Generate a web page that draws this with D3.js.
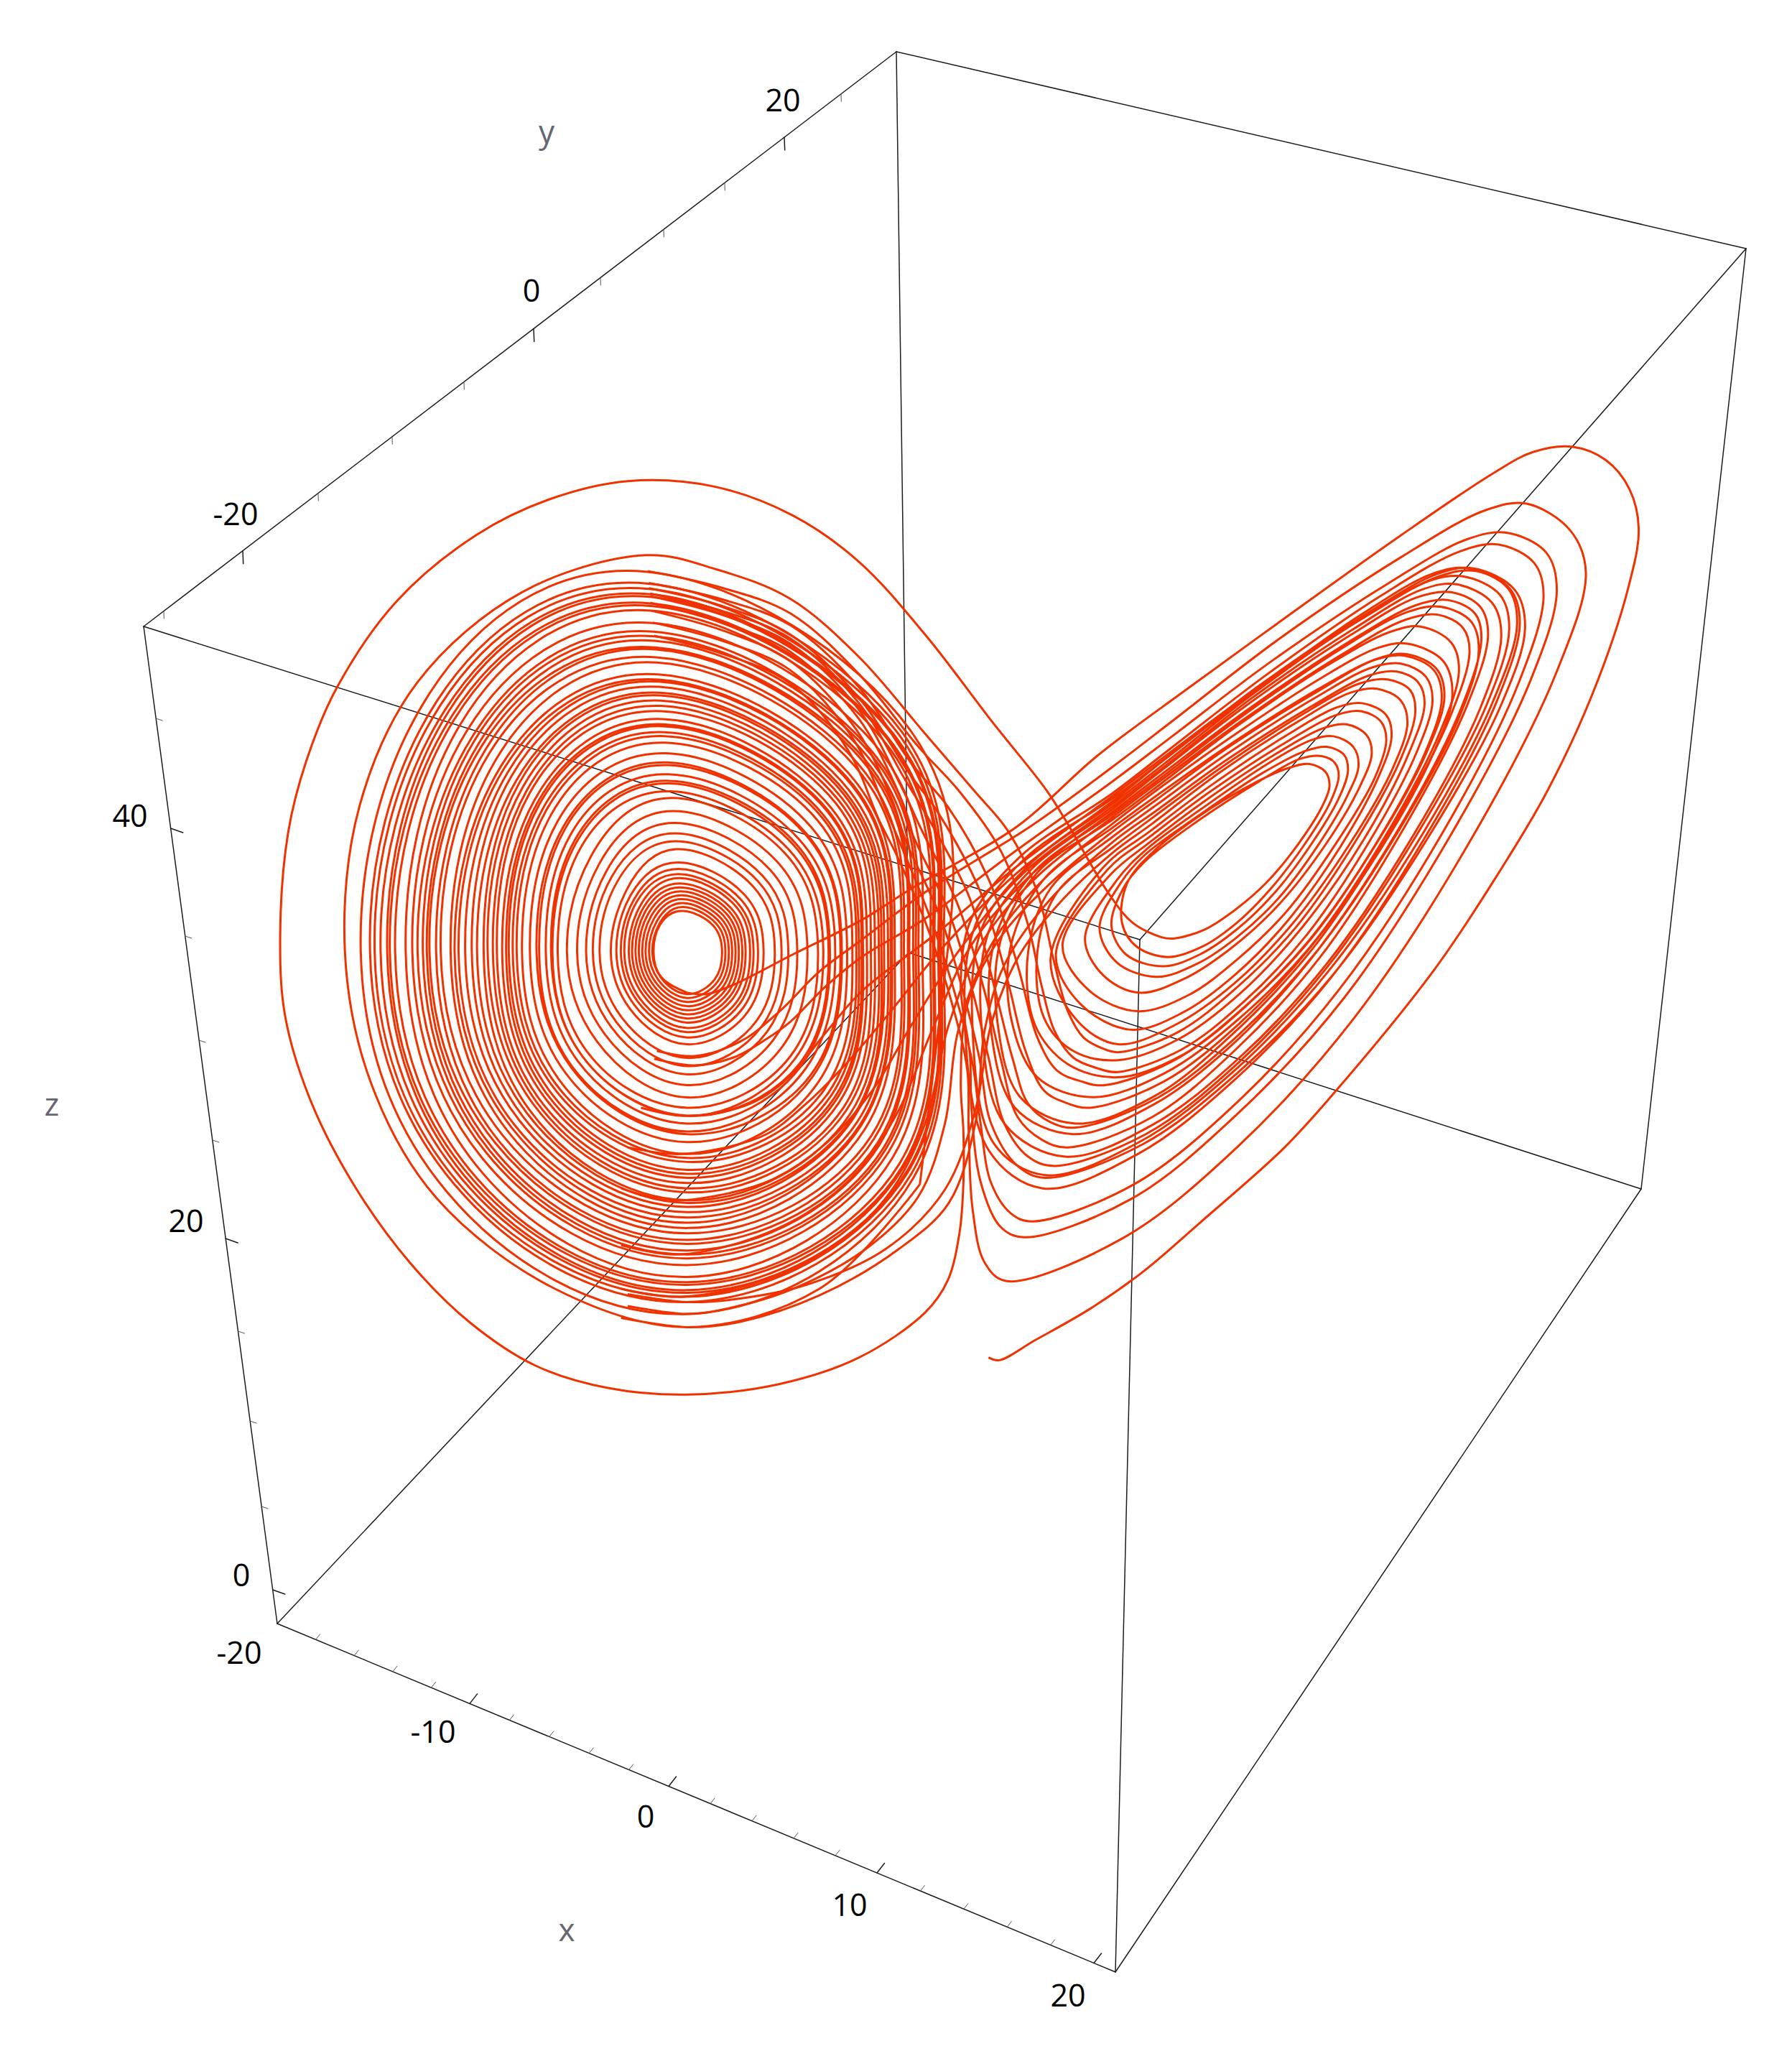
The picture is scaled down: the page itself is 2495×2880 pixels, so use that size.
<!DOCTYPE html>
<html><head><meta charset="utf-8">
<script src="https://cdnjs.cloudflare.com/ajax/libs/d3/7.8.5/d3.min.js"></script>
<style>html,body{margin:0;background:#fff}svg{display:block}</style></head>
<body><svg id="c" width="2495" height="2880"></svg>
<script>
// ---------- frame and axes (picture units) ----------
const boxCorners = {L:[200,872],T:[1248,72],R:[2431,346],Q:[2285,1655],B:[1553,2745],A:[386,2260],N:[1587,1308],F:[1265,1326]};
const boxEdges = ["LT","TR","RQ","QB","BA","AL","FT","FA","FQ","NL","NR","NB"];

const xDomain = [-20,-10,0,10,20,21];
const xAlong  = [386,654,931,1221,1523,1553];
const xTicks  = [-18,-16,-14,-12,-10,-8,-6,-4,-2,0,2,4,6,8,10,12,14,16,18,20];
const xMajor  = [-10,0,10,20];

const yDomain = [-26.2,-25,-20,-15,-10,-5,0,5,10,15,20,25,29];
const yAlong  = [200,228,338,443,546,646,743,836,924,1009,1092,1171,1248];
const yTicks  = [-25,-20,-15,-10,-5,0,5,10,15,20,25];
const yMajor  = [-20,0,20];

const zDomain = [-2,0,5,10,15,20,25,30,35,40,45,49];
const zAlong  = [2260,2213,2097,1978,1853,1724,1587,1448,1303,1153,1000,872];
const zTicks  = [0,5,10,15,20,25,30,35,40,45];
const zMajor  = [0,20,40];

const tickLabels = [["-20",333,2301],["-10",603,2411],["0",899,2529],["10",1183,2652],["20",1487,2778],
  ["-20",328,716],["0",740,405],["20",1090,140],["0",336,2193],["20",259,1700],["40",181,1136]];
const axisNames = [["x",789,2691],["y",761,188],["z",72,1542]];

// ---------- left wing: spiral, radius read along 8 directions round the pole, one row per turn ----------
const leftPole = [520,720];
const spiralDirections = [-6,45,90,135,180,225,270,315];
const leftSpiralRadii = [
 31,27.5,25.5,29,
 31,27.9,26.4,29.5,32,27.9,26.4,29.8,
 34,30.6,28.9,32.3,35,30.6,28.9,32.6,
 37,33.3,31.5,35.2,38,33.3,31.5,35.5,
 40,36,34,38,41.2,36,34,38.4,
 43,38.7,36.6,40.9,44.3,38.7,36.6,41.3,
 46,41.4,39.1,43.7,47.4,41.4,39.1,44.2,
 49,44.1,41.7,46.6,50.5,44.1,41.7,47,
 52,46.8,44.2,49.4,53.6,46.8,44.2,49.9,
 56,50.4,47.6,53.2,57.7,50.4,47.6,53.8,
 59,53.1,50.2,56,60.8,53.1,50.2,56.6,
 63,56.7,53.6,59.9,64.9,56.7,53.6,60.5,
 68,61.2,57.8,64.6,70,61.2,57.8,65.3,
 78,70.2,66.3,74.1,80.3,70.2,66.3,74.9,
 84,75.6,71.4,79.8,86.5,75.6,71.4,80.6,
 90,81,76.5,85.5,92.7,81,76.5,86.4,
 98,88.2,83.3,93.1,100.9,88.2,83.3,94.1,
 107,96.3,91,101.7,110.2,96.3,91,102.7,
 117,105,99,111,118,107,98,113,
 122,109,103,115,124,112,102,118,
 128,114,107,120,124,112,103,120,
 130,116,108,122,130,117,107,125,
 135,120,112,126,136,123,112,131,
 142,126,116,132,138,124,114,133,
 144,127,117,134,144,130,119,139,
 151,133,121,140,153,137,125,146,
 159,140,125,147,156,141,129,151,
 164,144,128,151,159,144,132,154,
 167,146,130,154,165,148,135,158,
 171.5,150,132,157,168,151,137,160,
 173,151,133,159,171,154,140,163,
 177,154,136,162,175,158,144,169,
 183,159,139,167,179,161,147,172,
 187,162,142,170,182,164,151,176,
 191,165,145,174,188,169,154,180,
 195,168,147,177,190,172,159,183,
 197,170,149,178,193,176,163,188,
 201.5,173,152,182,197,180,168,192,
 205.5,177,154,185,201,185,173,196,
 207,178,155,186,205,188,176,199,
 211,181,157,190,209,192,179,205,
 220,188,162,197,213,197,186.5,212,
 224,191,164,200,218,202,190,216,
 230,195,167,204,221,205,195,220,
 231.5,197,168,206,226,209,197,223,
 236.5,200,171,210,229,212,200,227,
 240,203,173,212,232,215,204,230,
 243.5,205,175,215,237,220,208,236,
 250,210,178,220,246,227,213,243,
 259.5,217,184,227,250,233,221,249,
 263,220,186,230,252,236,225,252,
 265,221,187,231,256,239,227,256,
 270,225,190,235,258,242,232,259,
 272,226,191,236,261,246,236.5,264,
 276,229,192,239,265,249,240,268,
 280,232,194,242,274,257,247,276,
 289,238,197,249
];

// ---------- the other stretches of the trajectory, read as x,y pairs in the plane of the picture ----------
const outerAndInnerRight = [
 846,815,895,798,944,760,993,709,1042,637,1079,568,1091,528,1085,507,1063,496,1041,499,997,523,930,565,875,605,842,629,795,668,755,712,732,760,727,818,729,856,729,895,726,933,717,969,700,993,650,1027,590,1047,520,1055,460,1050,405,1033,355,1000,310,955,270,900,236,835,216,770,212,710,218,630,232,575,255,520,300,455,360,405,415,378,475,364,540,368,600,390,650,425,700,480,750,545,792,598,806,620,839,676,857,698,879,709,
 888,710,912,703,935,688,959,667,982,639,1000,611,1006,595,1003,584,991,578,975,581,946,594,905,619,873,644,853,668,849,698,860,716,
 884,724,910,716,936,698,961,673,987,639,1007,606,1013,587,1010,577,1000,572,984,574,953,591,905,622,866,652,850,672,841,700,852,722,
 880,731,908,722,936,703,964,676,992,639,1013,604,1020,583,1017,571,1004,565,988,568,955,585,907,617,866,647,848,668,832,702,845,728,
 875,739,906,729,936,709,967,680,997,640,1020,601,1028,579,1024,565,1009,557,992,560,959,578,909,612,867,643,845,666,821,710,835,738,
 862,751,897,740,932,717,968,684,1003,639,1029,595,1038,570,1034,556,1019,548,1001,551,966,570,913,605,869,638,840,662,804,715,825,750,
 861,765,899,753,936,726,974,689,1011,638,1040,589,1049,560,1045,546,1030,538,1011,541,974,561,917,598,870,633,838,658,799,722,818,760,
 856,779,895,766,935,737,974,697,1014,641,1043,588,1053,557,1049,541,1031,532,1012,535,974,556,918,593,870,629,835,656,795,725,815,772,
 846,790,890,775,934,744,977,700,1021,639,1054,581,1065,547,1060,530,1042,521,1022,524,982,546,922,585,872,623,842,645,800,685,770,725,750,775,738,840,715,900,670,945,610,972,555,983,520,985,475,979
];
const passA = [696,896,620,975,520,1004,420,975,330,906,281,820,261,720,272,610,316,516,395,448,489,420,543,431,598,453,650,497,700,555,737,598,763,629,785,675,797,725,808,765,820,785,834,793,
 846,796,891,781,936,747,981,701,1026,636,1060,574,1071,538,1067,522,1050,514,1029,517,988,539,925,580,873,618,842,641,800,675,785,720,790,770,812,795,
 846,802,892,786,939,751,985,702,1032,635,1066,570,1078,532,1073,516,1057,508,1036,511,993,534,928,575,874,614,842,637,795,680,760,730,745,780,738,850,718,910,680,945,620,980,560,1000,520,1004,470,997];
const passB = [490,432,544,444,598,464,650,510,695,565,727,600,758,645,778,700,788,745,798,780,812,800,830,808,
 846,811,894,794,941,758,989,707,1036,637,1072,569,1084,530,1079,512,1060,502,1038,505,995,528,929,570,875,609,842,633,795,672,778,720,783,775,808,805];
const passC = [491,441,545,453,598,473,650,520,690,578,717,610,748,665,770,730,785,785,800,810,818,818,
 835,821,887,803,938,765,990,712,1041,639,1080,568,1093,527,1087,506,1065,495,1043,498,998,521,931,563,875,602,842,626,790,665,765,715,765,770,785,815,
 827,830,881,812,936,772,990,718,1045,642,1085,569,1099,526,1092,500,1065,487,1043,490,998,514,931,558,875,598,842,623,790,665,750,715,725,780,715,850,695,905,655,945,600,975,550,990,520,994,475,988];
const passD = [491,445,545,458,598,480,650,528,688,585,710,615,742,675,762,740,776,795,790,825,806,834,
 825,838,881,818,937,775,992,716,1048,633,1090,553,1104,507,1098,486,1075,474,1052,478,1005,503,935,550,877,594,842,620,785,660,757,712,755,775,772,830,
 814,850,874,829,933,782,993,718,1052,629,1097,543,1112,493,1107,475,1088,465,1063,469,1014,496,940,545,879,590,842,618,785,663,745,710,718,775,700,850,675,900,635,940,580,968,515,981,470,975];
const passE = [492,449,546,462,598,483,650,532,685,590,703,620,734,680,752,745,766,800,778,835,795,849,
 814,853,875,831,936,784,997,719,1058,629,1104,543,1119,492,1113,470,1090,459,1065,463,1016,490,941,541,879,588,842,616,782,660,753,710,750,780,768,838,
 812,858,874,835,936,787,997,719,1059,626,1106,535,1121,483,1116,464,1096,454,1071,458,1020,486,944,537,880,585,842,614,780,662,735,715,705,780,680,840,650,885,610,918,560,940,510,949,470,942];
const passF = [492,451,546,465,598,487,650,537,682,595,696,625,725,685,745,750,757,800,770,845,788,862,
 808,868,872,845,935,794,999,724,1062,627,1110,534,1126,480,1120,459,1098,448,1072,452,1021,481,944,533,880,582,842,612,780,658,748,705,743,780,760,850,
 806,875,872,851,938,800,1004,729,1070,631,1120,536,1136,481,1129,456,1102,442,1076,446,1024,476,946,529,881,580,842,610,775,660,725,720,690,775,660,825,625,865,585,892,540,905,505,908,470,899];
const passG = [492,456,546,471,598,493,650,544,680,600,690,630,718,690,736,750,748,800,760,850,778,875,
 798,882,867,858,936,805,1004,732,1073,630,1125,533,1142,476,1135,450,1107,436,1080,440,1027,470,948,525,882,577,842,608,778,655,743,702,736,780,752,865,
 791,889,862,864,934,810,1005,735,1077,630,1130,530,1148,472,1141,445,1111,430,1084,434,1030,465,950,522,882,574,842,606,770,660,715,715,670,770,640,805,610,835,580,858,540,870,510,873,475,868];
const passH = [493,462,547,477,598,500,648,552,675,605,685,635,712,695,730,755,741,800,750,850,770,882,
 791,891,864,866,936,812,1009,737,1081,633,1136,533,1154,475,1146,446,1115,430,1088,434,1033,465,951,520,883,573,842,604,775,650,738,700,730,770,748,870,
 789,899,861,873,933,818,1006,741,1078,634,1132,532,1150,472,1143,446,1117,432,1089,436,1034,466,952,520,883,571,842,602,770,655,710,705,652,750,625,781,598,814,572,833,543,842,515,844,485,838];
const passI = [494,471,547,485,598,507,645,558,670,612,682,640,706,700,725,760,736,805,742,850,750,895,765,918,
 781,924,858,896,936,834,1013,749,1091,631,1149,517,1168,451,1161,426,1134,412,1105,417,1046,450,959,510,886,566,842,600,772,648,735,695,727,745,734,799,735,837,742,894,757,928,
 775,936,856,907,936,843,1017,755,1097,633,1158,515,1178,447,1170,418,1140,403,1110,408,1051,441,961,501,887,557,842,591,760,650,700,695,652,724,625,746,598,773,580,786,555,800,525,806,495,801];
const passJ = [495,481,548,495,598,517,642,568,665,620,680,650,703,705,722,765,732,810,733,856,736,915,745,955,
 761,969,849,937,937,867,1024,771,1112,637,1178,508,1200,433,1188,401,1155,381,1124,386,1061,421,967,484,889,544,842,580,780,625,700,675,652,711,620,735,590,765,560,788,525,799,497,795];
const firstPass = [748,1027,756,1029,783,1014,825,990,865,962,908,925,970,870,1005,832,1085,734,1133,662,1170,600,1205,525,1232,445,1240,400,1233,370,1215,348,1190,338,1160,342,1130,358,1060,405,980,462,900,520,830,572,770,625,690,672,652,696,600,722,555,745,535,752,520,751];

const trailPieces = [passB.concat(outerAndInnerRight),passA,passC,passD,passE,passF,passG,passH,passI,passJ,firstPass];

// ---------- drawing ----------
const svg = d3.select("#c");
svg.append("rect").attr("width",2495).attr("height",2880).attr("fill","#fff");

const planeX = d3.scaleLinear().domain([0,1356]).range([0,2495]);
const planeY = d3.scaleLinear().domain([0,1565.2]).range([0,2880]);
const radius = d3.scaleLinear().domain([0,1]).range([0,1.84]);

const frame = svg.append("g").attr("stroke","#1c1c1c").attr("stroke-width",1.5).attr("fill","none").attr("stroke-linecap","round");
frame.selectAll("line.edge").data(boxEdges).join("line").attr("class","edge")
  .attr("x1",d=>boxCorners[d[0]][0]).attr("y1",d=>boxCorners[d[0]][1])
  .attr("x2",d=>boxCorners[d[1]][0]).attr("y2",d=>boxCorners[d[1]][1]);

function axisTicks(ticks,major,posX,posY,vMaj,vMin){
  frame.append("g").selectAll("line").data(ticks).join("line")
    .attr("stroke-width",d=>major.includes(d)?1.5:1)
    .attr("stroke",d=>major.includes(d)?"#1c1c1c":"#555")
    .attr("x1",d=>posX(d)).attr("y1",d=>posY(d))
    .attr("x2",d=>posX(d)+(major.includes(d)?vMaj:vMin)[0])
    .attr("y2",d=>posY(d)+(major.includes(d)?vMaj:vMin)[1]);
}
const c = boxCorners;
const xAxisX = d3.scaleLinear().domain(xDomain).range(xAlong);
const xAxisY = d=>c.A[1]+(xAxisX(d)-c.A[0])/(c.B[0]-c.A[0])*(c.B[1]-c.A[1]);
axisTicks(xTicks,xMajor,xAxisX,xAxisY,[10.5,-13.5],[6,-7.5]);
const yAxisX = d3.scaleLinear().domain(yDomain).range(yAlong);
const yAxisY = d=>c.L[1]+(yAxisX(d)-c.L[0])/(c.T[0]-c.L[0])*(c.T[1]-c.L[1]);
axisTicks(yTicks,yMajor,yAxisX,yAxisY,[0.7,18],[0.3,10.5]);
const zAxisY = d3.scaleLinear().domain(zDomain).range(zAlong);
const zAxisX = d=>c.A[0]+(zAxisY(d)-c.A[1])/(c.L[1]-c.A[1])*(c.L[0]-c.A[0]);
axisTicks(zTicks,zMajor,zAxisX,zAxisY,[17,6],[9,3]);

const trail = svg.append("g").attr("fill","none").attr("stroke","#f03200").attr("stroke-width",3).attr("stroke-linejoin","round");
const pairsOf = a=>d3.range(0,a.length,2).map(i=>[a[i],a[i+1]]);
const pieceLine = d3.line().x(d=>planeX(d[0])).y(d=>planeY(d[1])).curve(d3.curveCatmullRom.alpha(0.5));
trail.selectAll("path.piece").data(trailPieces).join("path").attr("class","piece").attr("d",d=>pieceLine(pairsOf(d)));

const spiral = d3.lineRadial()
  .angle((d,i)=>{const k=i+4; return (Math.floor(k/8)*360+spiralDirections[k%8])*Math.PI/180;})
  .radius(d=>radius(d)).curve(d3.curveNatural);
trail.append("path").attr("transform",`translate(${planeX(leftPole[0])},${planeY(leftPole[1])})`).attr("d",spiral(leftSpiralRadii));

const font = '"Open Sans","Noto Sans",sans-serif';
svg.append("g").selectAll("text").data(tickLabels).join("text")
  .attr("x",d=>d[1]).attr("y",d=>d[2]).attr("dy","0.36em").attr("text-anchor","middle")
  .attr("font-family",font).attr("font-size",43).attr("fill","#000").text(d=>d[0]);
svg.append("g").selectAll("text").data(axisNames).join("text")
  .attr("x",d=>d[1]).attr("y",d=>d[2]).attr("dy","0.25em").attr("text-anchor","middle")
  .attr("font-family",font).attr("font-size",44).attr("fill","#666673").text(d=>d[0]);
</script></body></html>
